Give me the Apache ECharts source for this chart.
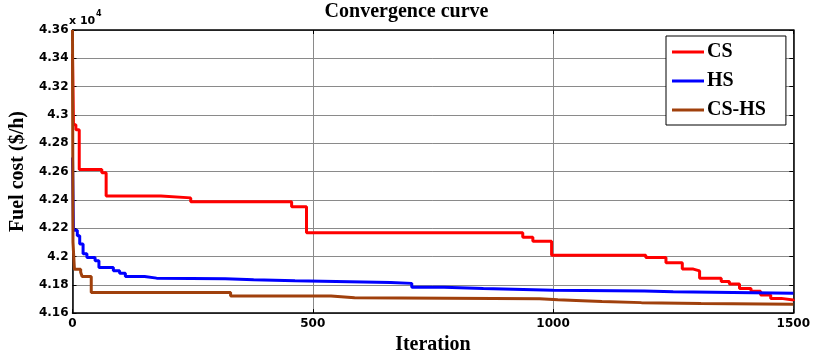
<!DOCTYPE html>
<html>
<head>
<meta charset="utf-8">
<script src="https://cdn.jsdelivr.net/npm/echarts@6/dist/echarts.min.js"></script>
<style>
  html, body { margin: 0; padding: 0; background: #fff; }
  #chart { width: 813px; height: 360px; }
</style>
</head>
<body>
<div id="chart"></div>
<script>
// Best fuel cost found so far (x 10^4 $/h), recorded at the iteration where it changes
const csIter = [0, 2, 7, 14, 61, 70, 184, 246, 456, 487, 937, 958, 997, 1193, 1235, 1269, 1292, 1305, 1350, 1367, 1388, 1412, 1432, 1453, 1475, 1500];
const csCost = [4.3432, 4.2931, 4.2896, 4.2615, 4.2592, 4.2428, 4.2414, 4.2387, 4.2352, 4.2167, 4.2135, 4.2107, 4.2008, 4.1992, 4.1955, 4.1911, 4.1898, 4.1847, 4.1824, 4.1806, 4.1773, 4.1755, 4.1727, 4.1704, 4.1692, 4.1685];

const hsIter = [0, 2, 10, 15, 22, 30, 47, 55, 85, 98, 110, 150, 175, 318, 377, 463, 662, 706, 773, 855, 1000, 1190, 1250, 1500];
const hsCost = [4.2700, 4.2185, 4.2147, 4.2089, 4.2020, 4.1992, 4.1969, 4.1923, 4.1900, 4.1882, 4.1858, 4.1847, 4.1842, 4.1835, 4.1828, 4.1817, 4.1810, 4.1782, 4.1773, 4.1761, 4.1757, 4.1750, 4.1740, 4.1738];

const cshsIter = [0, 1, 4, 17, 20, 39, 329, 538, 587, 972, 1010, 1061, 1102, 1184, 1308, 1500];
const cshsCost = [4.3600, 4.2100, 4.1909, 4.1889, 4.1858, 4.1745, 4.1721, 4.1708, 4.1702, 4.1694, 4.1688, 4.1682, 4.1674, 4.1667, 4.1663, 4.1663];

const seriesNames = ['CS', 'HS', 'CS-HS'];
const seriesColors = ['#ff0000', '#0000ff', '#a0400c'];

const xTicks = { min: 0, max: 1500, interval: 500 };
const yTicks = { min: 4.16, max: 4.36, interval: 0.02 };

const pairs = (xs, ys) => xs.map((x, i) => [x, ys[i]]);

const tickFont = 'DejaVu Sans';
const serif = '"Liberation Serif", "Times New Roman", serif';

function frameAxis(kind, position) {
  const lim = kind === 'x' ? xTicks : yTicks;
  return {
    type: 'value',
    position: position,
    min: lim.min, max: lim.max, interval: lim.interval,
    axisLine: { show: true, onZero: false, lineStyle: { color: '#000', width: 1.5 } },
    axisTick: { show: true, inside: true, length: 4, lineStyle: { color: '#000', width: 1 } },
    axisLabel: { show: false },
    splitLine: { show: false }
  };
}

const chart = echarts.init(document.getElementById('chart'), null, { renderer: 'canvas' });

chart.setOption({
  animation: false,
  backgroundColor: '#fff',
  title: {
    text: 'Convergence curve',
    left: 'center',
    top: 2,
    padding: 0,
    textStyle: { fontFamily: serif, fontWeight: 'bold', fontSize: 20, color: '#000' }
  },
  grid: { left: 69, right: 17, top: 30, bottom: 41, containLabel: false },
  legend: {
    orient: 'vertical',
    left: 666,
    top: 36,
    padding: [6, 20, 5, 6],
    itemGap: 9,
    itemWidth: 32,
    itemHeight: 3,
    backgroundColor: '#fff',
    borderColor: '#000',
    borderWidth: 1,
    icon: 'rect',
    textStyle: { fontFamily: serif, fontWeight: 'bold', fontSize: 20, color: '#000', lineHeight: 19, padding: [0, 0, 0, -2] },
    data: seriesNames
  },
  xAxis: [
    {
      type: 'value',
      min: xTicks.min, max: xTicks.max, interval: xTicks.interval,
      name: 'Iteration',
      nameLocation: 'middle',
      nameGap: 17,
      nameTextStyle: { fontFamily: serif, fontWeight: 'bold', fontSize: 20, color: '#000' },
      axisLine: { show: true, onZero: false, lineStyle: { color: '#000', width: 1.5 } },
      axisTick: { show: true, inside: true, length: 4, lineStyle: { color: '#000', width: 1 } },
      axisLabel: {
        margin: 5, fontFamily: tickFont, fontWeight: 'bold', fontSize: 12, color: '#000',
        formatter: v => String(Math.round(v))
      },
      splitLine: { show: true, lineStyle: { color: '#8a8a8a', width: 1 } }
    },
    frameAxis('x', 'top')
  ],
  yAxis: [
    {
      type: 'value',
      min: yTicks.min, max: yTicks.max, interval: yTicks.interval,
      name: 'Fuel cost ($/h)',
      nameLocation: 'middle',
      nameGap: 34,
      nameTextStyle: { fontFamily: serif, fontWeight: 'bold', fontSize: 20, color: '#000' },
      axisLine: { show: true, onZero: false, lineStyle: { color: '#000', width: 1.5 } },
      axisTick: { show: true, inside: true, length: 4, lineStyle: { color: '#000', width: 1 } },
      axisLabel: {
        margin: 4, fontFamily: tickFont, fontWeight: 'bold', fontSize: 12, color: '#000',
        formatter: v => String(+v.toFixed(2))
      },
      splitLine: { show: true, lineStyle: { color: '#8a8a8a', width: 1 } }
    },
    frameAxis('y', 'right')
  ],
  graphic: [
    { type: 'text', left: 69, top: 16, style: { text: 'x 10', fontFamily: tickFont, fontWeight: 'bold', fontSize: 11, fill: '#000' } },
    { type: 'text', left: 96, top: 10, style: { text: '4', fontFamily: tickFont, fontWeight: 'bold', fontSize: 8, fill: '#000' } }
  ],
  series: [
    { name: seriesNames[0], data: pairs(csIter, csCost) },
    { name: seriesNames[1], data: pairs(hsIter, hsCost) },
    { name: seriesNames[2], data: pairs(cshsIter, cshsCost) }
  ].map((s, i) => ({
    type: 'line',
    name: s.name,
    data: s.data,
    step: 'end',
    showSymbol: false,
    symbol: 'none',
    clip: true,
    color: seriesColors[i],
    lineStyle: { color: seriesColors[i], width: 3 },
    z: 3
  }))
});
</script>
</body>
</html>
